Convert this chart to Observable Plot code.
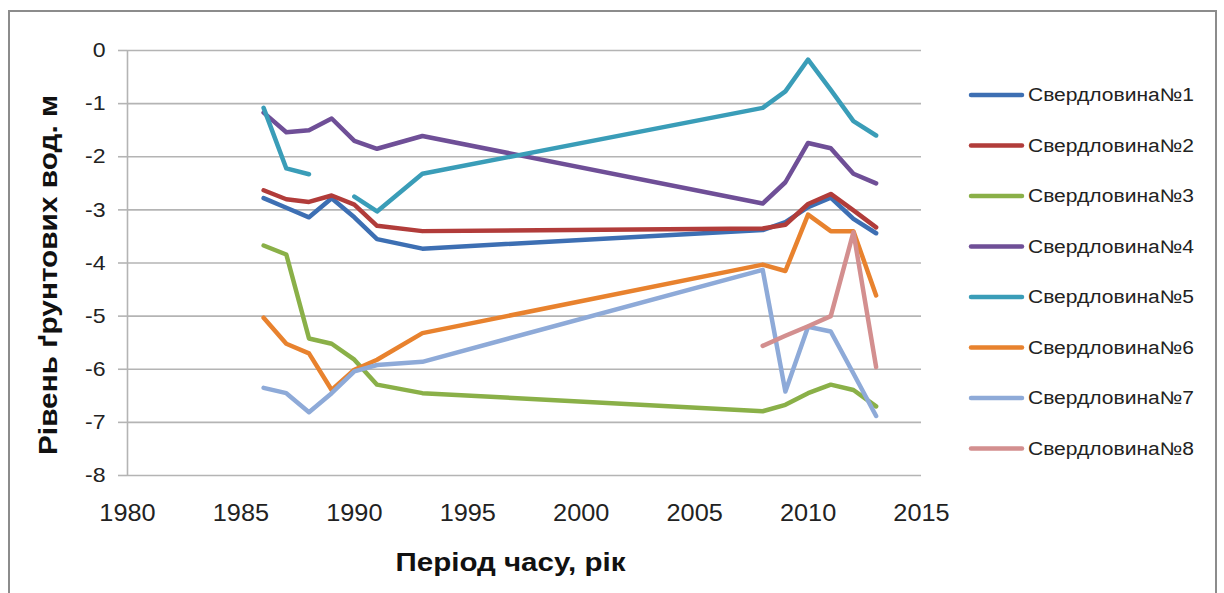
<!DOCTYPE html>
<html><head><meta charset="utf-8">
<script src="https://cdn.jsdelivr.net/npm/d3@7"></script>
<script src="https://cdn.jsdelivr.net/npm/@observablehq/plot@0.6"></script>
<style>
body{margin:0;background:#fff;}
#wrap{position:relative;width:1224px;height:593px;overflow:hidden;background:#fff;}
#border{position:absolute;left:8px;top:10px;width:1209px;height:620px;border:2px solid #8c8c8c;box-sizing:border-box;pointer-events:none;}
#chart{position:absolute;left:0;top:0;}
</style></head><body><div id="wrap"><div id="chart"></div><div id="border"></div></div>
<script>
const years = [1986,1987,1988,1989,1990,1991,1993,2008,2009,2010,2011,2012,2013];
const seriesNames = ["Свердловина№1","Свердловина№2","Свердловина№3","Свердловина№4","Свердловина№5","Свердловина№6","Свердловина№7","Свердловина№8"];
const well1 = [-2.78,-2.96,-3.14,-2.78,-3.14,-3.55,-3.73,-3.38,-3.23,-2.95,-2.77,-3.17,-3.44];
const well2 = [-2.63,-2.80,-2.85,-2.73,-2.90,-3.30,-3.40,-3.35,-3.28,-2.89,-2.70,-3.01,-3.33];
const well3 = [-3.67,-3.84,-5.42,-5.52,-5.82,-6.29,-6.45,-6.79,-6.67,-6.45,-6.29,-6.39,-6.70];
const well4 = [-1.17,-1.54,-1.50,-1.28,-1.70,-1.85,-1.61,-2.88,-2.48,-1.74,-1.84,-2.32,-2.50];
const well5 = [-1.08,-2.22,-2.33,null,-2.75,-3.03,-2.32,-1.08,-0.77,-0.17,-0.74,-1.33,-1.60];
const well6 = [-5.03,-5.52,-5.70,-6.39,-6.01,-5.82,-5.32,-4.03,-4.15,-3.09,-3.40,-3.40,-4.61];
const well7 = [-6.35,-6.45,-6.81,-6.45,-6.04,-5.92,-5.86,-4.13,-6.42,-5.20,-5.29,-6.08,-6.88];
const well8 = [null,null,null,null,null,null,null,-5.56,-5.37,-5.19,-5.00,-3.42,-5.96];
const colors = ["#3d6fb3","#b13c3a","#8ab048","#6f4f97","#3a9db8","#e8822e","#8eaad8","#d38f8f"];
const xTicks = [1980,1985,1990,1995,2000,2005,2010,2015];
const yTicks = [0,-1,-2,-3,-4,-5,-6,-7,-8];
const yTitle = "Рівень ґрунтових вод. м";
const xTitle = "Період часу, рік";

const allWells = [well1,well2,well3,well4,well5,well6,well7,well8];
const rows = [];
allWells.forEach((vals, i) => {
  vals.forEach((v, j) => rows.push({series: seriesNames[i], year: years[j], value: v}));
});

const font = "'Liberation Sans', Arial, sans-serif";
const chart = Plot.plot({
  width: 1224, height: 593,
  marginLeft: 127, marginRight: 303, marginTop: 50, marginBottom: 118,
  style: {fontFamily: font, background: "transparent", overflow: "visible"},
  x: {domain: [1980, 2015]},
  y: {domain: [-8, 0]},
  color: {domain: seriesNames, range: colors},
  marks: [
    Plot.ruleY(yTicks, {stroke: "#b4b4b4", strokeWidth: 1.6}),
    Plot.ruleX([1980], {stroke: "#b4b4b4", strokeWidth: 1.6}),
    Plot.axisY({ticks: yTicks, tickSize: 9, tickPadding: 13, fontSize: 21, stroke: "#b4b4b4", strokeWidth: 1.6, label: null, tickFormat: d => d === 0 ? "0" : String(d), fill: "#222"}),
    Plot.axisX({ticks: xTicks, tickSize: 0, tickPadding: 29, fontSize: 23, label: null, tickFormat: d => String(d), fill: "#222"}),
    Plot.line(rows, {x: "year", y: "value", z: "series", stroke: "series", strokeWidth: 4.5, strokeLinejoin: "round", strokeLinecap: "round"}),
    Plot.text([yTitle], {frameAnchor: "left", textAnchor: "middle", dx: -79, dy: 12, rotate: -90, fontSize: 25, fontWeight: "bold", fill: "#111", text: d => d, className: "ytitle"}),
    Plot.text([xTitle], {frameAnchor: "bottom", textAnchor: "middle", dx: -14, dy: 95, fontSize: 25, fontWeight: "bold", fill: "#111", text: d => d, className: "xtitle"})
  ]
});
document.getElementById("chart").appendChild(chart);

const svg = d3.select(chart);
function stretch(sel, target) {
  sel.each(function() {
    const w = this.getComputedTextLength();
    const t = typeof target === "function" ? target(w) : target;
    this.setAttribute("textLength", t);
    this.setAttribute("lengthAdjust", "spacingAndGlyphs");
  });
}
stretch(svg.selectAll("g[aria-label='x-axis tick label'] text"), w => w * 1.1);
stretch(svg.selectAll("g[aria-label='y-axis tick label'] text"), w => w * 1.1);
stretch(svg.selectAll(".ytitle text"), 360);
stretch(svg.selectAll(".xtitle text"), 230);

// legend
const lg = svg.append("g").attr("font-family", font).attr("text-anchor", "start");
seriesNames.forEach((name, i) => {
  const y = 95 + i * 50.5;
  lg.append("line").attr("x1", 971).attr("x2", 1022).attr("y1", y).attr("y2", y)
    .attr("stroke", colors[i]).attr("stroke-width", 4.5).attr("stroke-linecap", "round");
  const t = lg.append("text").attr("x", 1028).attr("y", y).attr("dy", "0.35em")
    .attr("font-size", 18).attr("fill", "#222").text(name);
  t.attr("textLength", 166).attr("lengthAdjust", "spacingAndGlyphs");
});
</script>
</body></html>
